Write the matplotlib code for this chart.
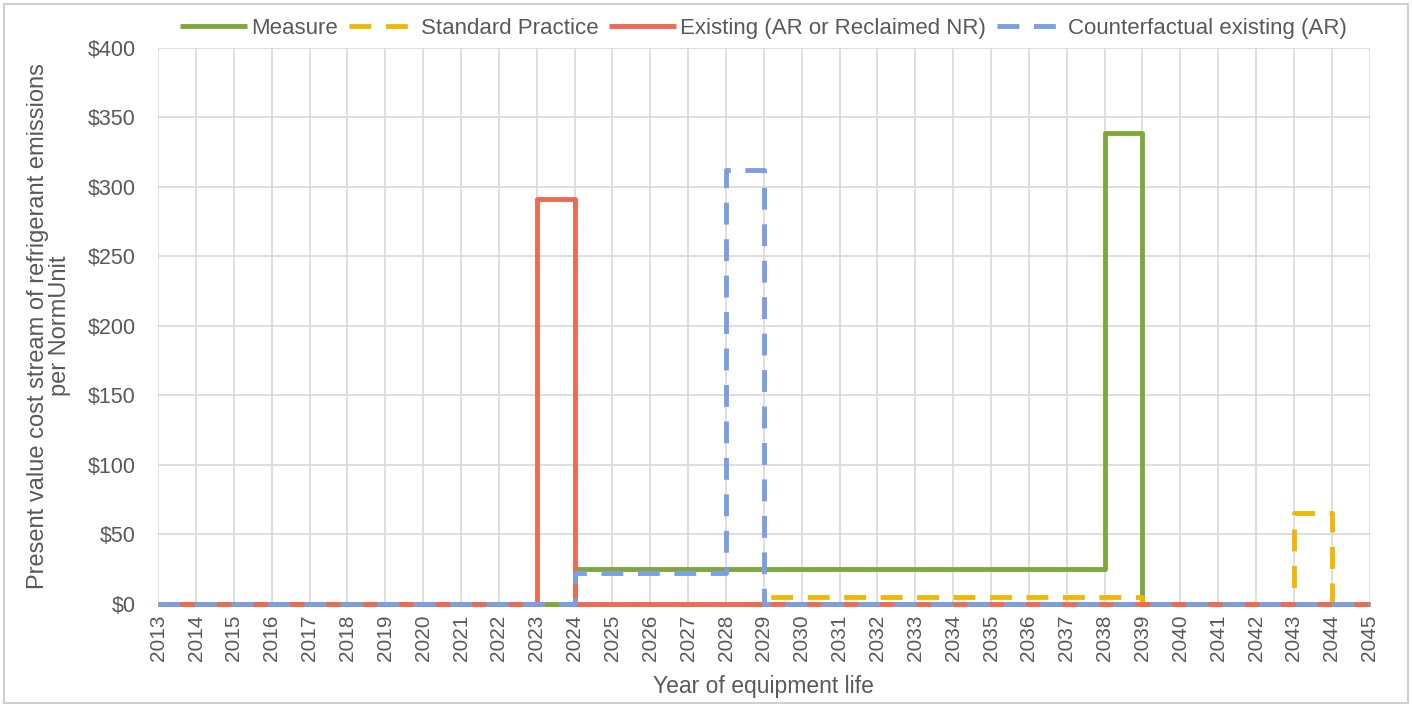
import numpy as np
import matplotlib
matplotlib.use("Agg")
import matplotlib.pyplot as plt
from matplotlib.ticker import FuncFormatter

plt.rcParams['font.family'] = ['Liberation Sans', 'DejaVu Sans']

# year edges; each value holds from that year to the next
years = list(range(2013, 2046))

# value per interval 2013..2044
measure = [0]*11 + [25]*14 + [339] + [0]*6
standard = [0]*16 + [5]*10 + [0]*4 + [65] + [0]
existing = [0]*10 + [291] + [0]*21
counterfactual = [0]*11 + [22]*4 + [312] + [0]*16

series = [
    ("Measure", measure, "#7EA83A", "-"),
    ("Standard Practice", standard, "#F2B705", "--"),
    ("Existing (AR or Reclaimed NR)", existing, "#EE6A52", "-"),
    ("Counterfactual existing (AR)", counterfactual, "#7B9FE3", "--"),
]

fig = plt.figure(figsize=(14.12, 7.06), dpi=100)
ax = fig.add_axes([0.112, 0.145, 0.858, 0.787])

for name, vals, col, ls in series:
    y = vals + [vals[-1]]
    line, = ax.step(years, y, where="post", color=col, lw=3.5, label=name,
                    solid_capstyle="butt", dash_capstyle="butt", clip_on=False)
    if ls == "--":
        line.set_dashes((4.5, 3))

ax.set_xlim(2013, 2045)
ax.set_ylim(0, 400)
ax.set_xticks(years)
ax.set_xticklabels([str(y) for y in years], rotation=90, fontsize=15, color="#595959")
ax.set_yticks(np.arange(0, 401, 50))
ax.yaxis.set_major_formatter(FuncFormatter(lambda v, p: f"${v:.0f}"))
ax.tick_params(axis="y", labelsize=15.5, labelcolor="#595959", length=0, pad=16)
ax.tick_params(axis="x", length=0, pad=8)
ax.grid(True, color="#D9D9D9", lw=1.2)
ax.set_axisbelow(True)
for s in ax.spines.values():
    s.set_visible(False)

ax.set_xlabel("Year of equipment life", fontsize=16.5, color="#595959", labelpad=10)
ax.set_ylabel("Present value cost stream of refrigerant emissions\nper NormUnit",
              fontsize=17, color="#595959", labelpad=12, linespacing=1.0)

ax.legend(loc="center", bbox_to_anchor=(0.5, 1.035), ncol=4, frameon=False,
          fontsize=16, handlelength=3.0, handletextpad=0.2, columnspacing=0.5,
          labelcolor="#595959", borderaxespad=0)

# light frame around the whole figure
fig.patches.append(plt.Rectangle((0.003, 0.004), 0.994, 0.99, transform=fig.transFigure,
                                 fill=False, edgecolor="#D0D0D0", lw=1.5))

fig.savefig("out.png", dpi=100)
